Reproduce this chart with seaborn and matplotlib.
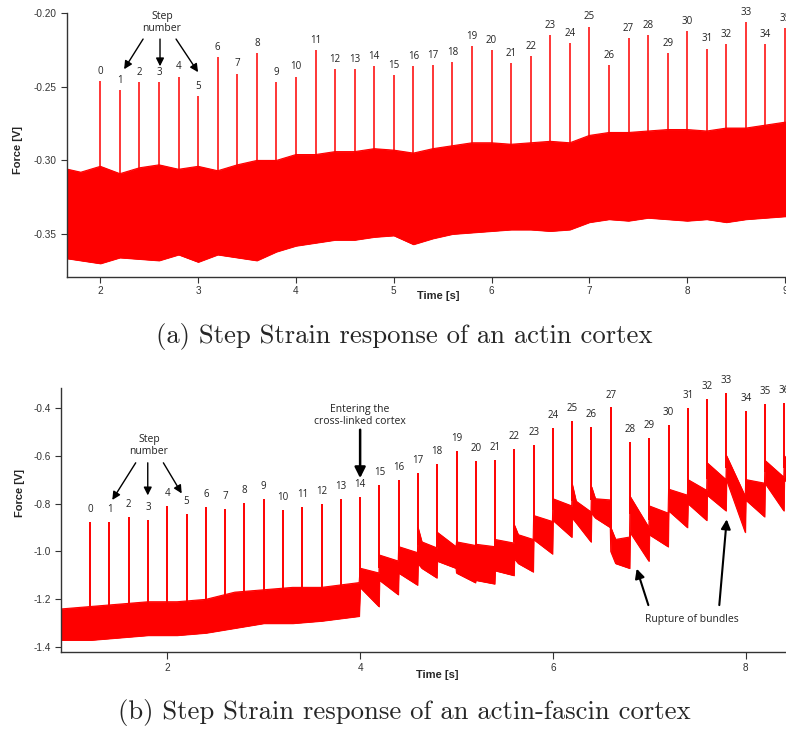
import numpy as np
import pandas as pd
import matplotlib
matplotlib.use("Agg")
import matplotlib.pyplot as plt
import seaborn as sns

# ---------------- data: panel (a) actin cortex ----------------
a_step_labels = [str(k) for k in range(36)]
a_step_times = [2.0, 2.2, 2.4, 2.6, 2.8, 3.0, 3.2, 3.4, 3.6, 3.8, 4.0, 4.2,
                4.4, 4.6, 4.8, 5.0, 5.2, 5.4, 5.6, 5.8, 6.0, 6.2, 6.4, 6.6,
                6.8, 7.0, 7.2, 7.4, 7.6, 7.8, 8.0, 8.2, 8.4, 8.6, 8.8, 9.0]
a_step_peaks = [-0.246, -0.252, -0.247, -0.247, -0.243, -0.256, -0.230, -0.241,
                -0.227, -0.247, -0.243, -0.225, -0.238, -0.238, -0.236, -0.242,
                -0.236, -0.235, -0.233, -0.222, -0.225, -0.234, -0.229, -0.215,
                -0.220, -0.209, -0.235, -0.217, -0.215, -0.227, -0.212, -0.224,
                -0.221, -0.206, -0.221, -0.210]
# noise envelope of the force signal (upper / lower edge)
a_env_time = [1.60, 1.8, 2.0, 2.2, 2.4, 2.6, 2.8, 3.0, 3.2, 3.4, 3.6, 3.8, 4.0,
              4.2, 4.4, 4.6, 4.8, 5.0, 5.2, 5.4, 5.6, 5.8, 6.0, 6.2, 6.4, 6.6,
              6.8, 7.0, 7.2, 7.4, 7.6, 7.8, 8.0, 8.2, 8.4, 8.6, 8.8, 9.0, 9.1]
a_env_upper = [-0.305, -0.308, -0.304, -0.309, -0.305, -0.303, -0.306, -0.304,
               -0.307, -0.303, -0.300, -0.300, -0.296, -0.296, -0.294, -0.294,
               -0.292, -0.293, -0.295, -0.292, -0.290, -0.288, -0.288, -0.289,
               -0.288, -0.287, -0.288, -0.283, -0.281, -0.281, -0.280, -0.279,
               -0.279, -0.280, -0.278, -0.278, -0.276, -0.274, -0.274]
a_env_lower = [-0.366, -0.368, -0.370, -0.366, -0.367, -0.368, -0.364, -0.369,
               -0.364, -0.366, -0.368, -0.362, -0.358, -0.356, -0.354, -0.354,
               -0.352, -0.351, -0.357, -0.353, -0.350, -0.349, -0.348, -0.347,
               -0.347, -0.348, -0.347, -0.342, -0.340, -0.341, -0.339, -0.340,
               -0.341, -0.340, -0.342, -0.340, -0.339, -0.338, -0.338]

# ---------------- data: panel (b) actin-fascin cortex ----------------
b_step_labels = [str(k) for k in range(37)]
b_step_times = [1.2, 1.4, 1.6, 1.8, 2.0, 2.2, 2.4, 2.6, 2.8, 3.0, 3.2, 3.4,
                3.6, 3.8, 4.0, 4.2, 4.4, 4.6, 4.8, 5.0, 5.2, 5.4, 5.6, 5.8,
                6.0, 6.2, 6.4, 6.6, 6.8, 7.0, 7.2, 7.4, 7.6, 7.8, 8.0, 8.2, 8.4]
b_step_peaks = [-0.877, -0.878, -0.858, -0.869, -0.809, -0.844, -0.816, -0.821,
                -0.796, -0.780, -0.828, -0.814, -0.800, -0.781, -0.774, -0.724,
                -0.702, -0.674, -0.634, -0.581, -0.623, -0.619, -0.572, -0.557,
                -0.485, -0.456, -0.481, -0.399, -0.542, -0.525, -0.472, -0.401,
                -0.364, -0.340, -0.414, -0.383, -0.379]
b_env_time = [0.90, 1.20, 1.50, 1.80, 2.10, 2.40, 2.70, 3.00, 3.30, 3.60, 3.99,
              4.00, 4.195, 4.20, 4.395, 4.40, 4.595, 4.60, 4.64, 4.795,
              4.80, 4.995, 5.00, 5.195, 5.20, 5.395, 5.40, 5.595,
              5.60, 5.64, 5.795, 5.80, 5.995, 6.00, 6.195,
              6.20, 6.24, 6.395, 6.40, 6.44, 6.595, 6.60, 6.65, 6.795,
              6.80, 6.995, 7.00, 7.195, 7.20, 7.395, 7.40, 7.595,
              7.60, 7.795, 7.80, 7.995, 8.00, 8.195, 8.20, 8.395, 8.40, 8.45]
b_env_upper = [-1.24, -1.23, -1.22, -1.21, -1.21, -1.20, -1.17, -1.16, -1.15, -1.15, -1.13,
               -1.07, -1.09, -1.015, -1.04, -0.98, -1.005, -0.90, -0.96, -0.985,
               -0.92, -0.98, -0.96, -0.975, -0.97, -0.98, -0.95, -0.965,
               -0.89, -0.93, -0.95, -0.85, -0.875, -0.78, -0.81,
               -0.72, -0.79, -0.835, -0.73, -0.78, -0.785, -0.90, -0.95, -0.94,
               -0.77, -0.90, -0.81, -0.84, -0.74, -0.765, -0.70, -0.745,
               -0.63, -0.70, -0.60, -0.77, -0.70, -0.715, -0.62, -0.69, -0.60, -0.63]
b_env_lower = [-1.37, -1.37, -1.36, -1.35, -1.35, -1.34, -1.32, -1.30, -1.30, -1.29, -1.27,
               -1.15, -1.23, -1.12, -1.18, -1.09, -1.14, -1.05, -1.07, -1.11,
               -1.04, -1.07, -1.09, -1.13, -1.12, -1.135, -1.08, -1.10,
               -1.03, -1.05, -1.085, -0.95, -1.01, -0.87, -0.94,
               -0.86, -0.88, -0.96, -0.84, -0.86, -0.90, -1.00, -1.05, -1.07,
               -0.92, -1.04, -0.93, -0.98, -0.83, -0.90, -0.80, -0.87,
               -0.765, -0.83, -0.70, -0.92, -0.785, -0.855, -0.715, -0.83, -0.70, -0.72]

RED = "#fe0000"

sns.set_style("ticks")
plt.rcParams["axes.unicode_minus"] = False
plt.rcParams["font.family"] = ["Open Sans", "DejaVu Sans"]

W, H = 786, 731
fig = plt.figure(figsize=(W / 100, H / 100), dpi=100)

TICKFONT = ["Liberation Sans Narrow", "Liberation Sans", "DejaVu Sans"]


def draw_panel(ax, env_t, env_up, env_lo, st, pk, labels, spike_lw, lab_off):
    df_env = pd.DataFrame({"t": env_t, "upper": env_up, "lower": env_lo})
    ax.fill_between(df_env["t"], df_env["lower"], df_env["upper"],
                    color=RED, lw=0.6, edgecolor=RED, zorder=2)
    sns.lineplot(data=df_env, x="t", y="upper", ax=ax, color=RED, lw=0.8,
                 zorder=2)
    sns.lineplot(data=df_env, x="t", y="lower", ax=ax, color=RED, lw=0.8,
                 zorder=2)
    centre = (np.interp(st, env_t, env_up) + np.interp(st, env_t, env_lo)) / 2
    ax.vlines(st, centre, pk, color=RED, lw=spike_lw, zorder=3)
    for x, y, s in zip(st, pk, labels):
        ax.annotate(s, (x, y), xytext=(0, lab_off), textcoords="offset points",
                    ha="center", va="bottom", fontsize=7, color="#222222",
                    annotation_clip=False)
    ax.set_xlabel("")
    ax.set_ylabel("")
    sns.despine(ax=ax)
    for sp in ("left", "bottom"):
        ax.spines[sp].set_color("#333333")
        ax.spines[sp].set_linewidth(1.0)
    ax.tick_params(direction="out", length=4, width=0.8, colors="#333333",
                   labelsize=7.2, pad=3)
    for lab in ax.get_xticklabels() + ax.get_yticklabels():
        lab.set_fontfamily(TICKFONT)


def arrow(ax, start, end, lw=1.0, ms=12):
    ax.annotate("", xy=end, xytext=start,
                arrowprops=dict(arrowstyle="-|>", color="black", lw=lw,
                                mutation_scale=ms, shrinkA=0, shrinkB=0),
                annotation_clip=False)


# ---------------- panel (a) ----------------
axa = fig.add_axes([66.7 / W, 1 - 276.7 / H, 719.3 / W, 263.4 / H])
axa.set_xlim(1.656, 9.01)
axa.set_ylim(-0.379, -0.20)
axa.set_xticks([2, 3, 4, 5, 6, 7, 8, 9])
axa.set_yticks([-0.35, -0.30, -0.25, -0.20])
axa.set_yticklabels(["-0.35", "-0.30", "-0.25", "-0.20"])
draw_panel(axa, a_env_time, a_env_upper, a_env_lower, a_step_times,
           a_step_peaks, a_step_labels, 1.1, 3)
axa.spines["left"].set_bounds(-0.379, -0.20)

axa.text(2.63, -0.2065, "Step\nnumber", ha="center", va="center",
         fontsize=7.5, linespacing=1.15, color="#222222")
arrow(axa, (2.437, -0.2175), (2.243, -0.2380))
arrow(axa, (2.610, -0.2175), (2.610, -0.2360))
arrow(axa, (2.774, -0.2175), (2.999, -0.2400))

fig.text(438 / W, 1 - 296 / H, "Time [s]", ha="center", va="center",
         fontsize=8, fontweight="bold", family=TICKFONT)
fig.text(18 / W, 1 - 150 / H, "Force [V]", ha="center", va="center",
         rotation=90, fontsize=8, fontweight="bold", family=TICKFONT)

# ---------------- panel (b) ----------------
axb = fig.add_axes([61 / W, 1 - 652.3 / H, 725.2 / W, 264 / H])
axb.set_xlim(0.897, 8.42)
axb.set_ylim(-1.421, -0.319)
axb.set_xticks([2, 4, 6, 8])
axb.set_yticks([-1.4, -1.2, -1.0, -0.8, -0.6, -0.4])
axb.set_yticklabels(["-1.4", "-1.2", "-1.0", "-0.8", "-0.6", "-0.4"])
draw_panel(axb, b_env_time, b_env_upper, b_env_lower, b_step_times,
           b_step_peaks, b_step_labels, 1.4, 5)
axb.tick_params(axis="x", length=5)

axb.text(1.81, -0.557, "Step\nnumber", ha="center", va="center",
         fontsize=7.5, linespacing=1.15, color="#222222")
arrow(axb, (1.672, -0.630), (1.429, -0.785))
arrow(axb, (1.797, -0.630), (1.797, -0.766))
arrow(axb, (1.959, -0.630), (2.149, -0.758))

axb.text(4.0, -0.432, "Entering the\ncross-linked cortex", ha="center",
         va="center", fontsize=7.5, linespacing=1.15, color="#222222")
arrow(axb, (4.0, -0.492), (4.0, -0.694), lw=1.8, ms=16)

axb.text(7.44, -1.284, "Rupture of bundles", ha="center", va="center",
         fontsize=7.5, color="#222222")
arrow(axb, (6.99, -1.224), (6.869, -1.072), lw=1.5, ms=14)
arrow(axb, (7.726, -1.224), (7.803, -0.866), lw=1.5, ms=14)

fig.text(437 / W, 1 - 675 / H, "Time [s]", ha="center", va="center",
         fontsize=8, fontweight="bold", family=TICKFONT)
fig.text(20 / W, 1 - 493 / H, "Force [V]", ha="center", va="center",
         rotation=90, fontsize=8, fontweight="bold", family=TICKFONT)

# ---------------- captions ----------------
fig.text(404.5 / W, 1 - 336 / H, "(a) Step Strain response of an actin cortex",
         ha="center", va="center", fontsize=19.2, family="cmr10")
fig.text(404 / W, 1 - 713 / H,
         "(b) Step Strain response of an actin-fascin cortex",
         ha="center", va="center", fontsize=19.2, family="cmr10")

fig.savefig("out.png", dpi=100)
